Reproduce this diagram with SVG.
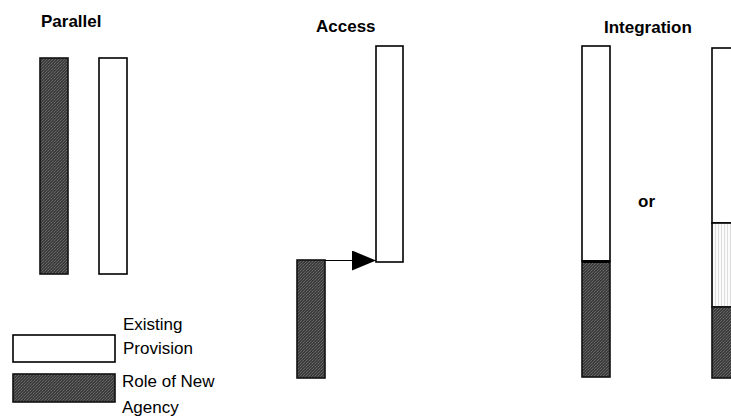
<svg xmlns="http://www.w3.org/2000/svg" width="731" height="416" viewBox="0 0 731 416">
<defs>
<pattern id="dark" width="3" height="3" patternUnits="userSpaceOnUse">
<rect width="3" height="3" fill="#3c3c3c"/>
<rect x="0" y="0" width="1" height="1" fill="#6a6a6a"/>
<rect x="2" y="1" width="1" height="1" fill="#5a5a5a"/>
<rect x="1" y="2" width="1" height="1" fill="#666"/>
</pattern>
<pattern id="light" width="3" height="4" patternUnits="userSpaceOnUse">
<rect width="3" height="4" fill="#fbfbfb"/>
<rect x="1" y="0" width="1" height="4" fill="#dcdcdc"/>
</pattern>
<marker id="arrow" markerWidth="24" markerHeight="20" refX="24" refY="10" orient="auto" markerUnits="userSpaceOnUse">
<path d="M0,0 L24,10 L0,20 Z" fill="#000"/>
</marker>
</defs>
<style>
.t{font-family:"Liberation Sans",Arial,sans-serif;font-size:17px;fill:#000}
.b{font-weight:bold}
.w{fill:#fff;stroke:#000;stroke-width:1.6}
.d{fill:url(#dark);stroke:#111;stroke-width:1.6}
.l{fill:url(#light);stroke:#000;stroke-width:1.6}
.c{stroke:#000;stroke-width:1.2;fill:none}
</style>
<rect width="731" height="416" fill="#fff"/>
<g id="titles">
<text class="t b" x="41" y="27">Parallel</text>
<text class="t b" x="316" y="32">Access</text>
<text class="t b" x="604" y="33">Integration</text>
<text class="t b" x="638" y="207">or</text>
</g>
<g id="parallel-agency"><rect class="d" x="40" y="58" width="28" height="216"/></g>
<g id="parallel-provision"><rect class="w" x="99" y="58" width="28" height="216"/></g>
<g id="access-provision"><rect class="w" x="376" y="46" width="27" height="216"/></g>
<g id="access-agency"><rect class="d" x="297" y="260" width="28" height="118"/></g>
<g id="integration-1">
<rect class="w" x="582" y="46" width="28" height="215"/>
<rect class="d" x="582" y="261" width="28" height="116"/>
<line x1="582" y1="261.5" x2="610" y2="261.5" stroke="#000" stroke-width="3"/>
</g>
<g id="integration-2">
<rect class="w" x="712" y="48" width="40" height="175"/>
<rect class="l" x="712" y="223" width="40" height="84"/>
<rect class="d" x="712" y="307" width="40" height="71"/>
</g>
<g id="legend-existing">
<rect class="w" x="13" y="335" width="102" height="27"/>
<text class="t" x="123" y="330">Existing</text>
<text class="t" x="123" y="354">Provision</text>
</g>
<g id="legend-agency">
<rect class="d" x="13" y="374" width="102" height="28"/>
<text class="t" x="122" y="387">Role of New</text>
<text class="t" x="122" y="413">Agency</text>
</g>
<g id="connectors">
<line class="c" x1="325" y1="260.5" x2="376" y2="260.5" marker-end="url(#arrow)"/>
</g>
</svg>
